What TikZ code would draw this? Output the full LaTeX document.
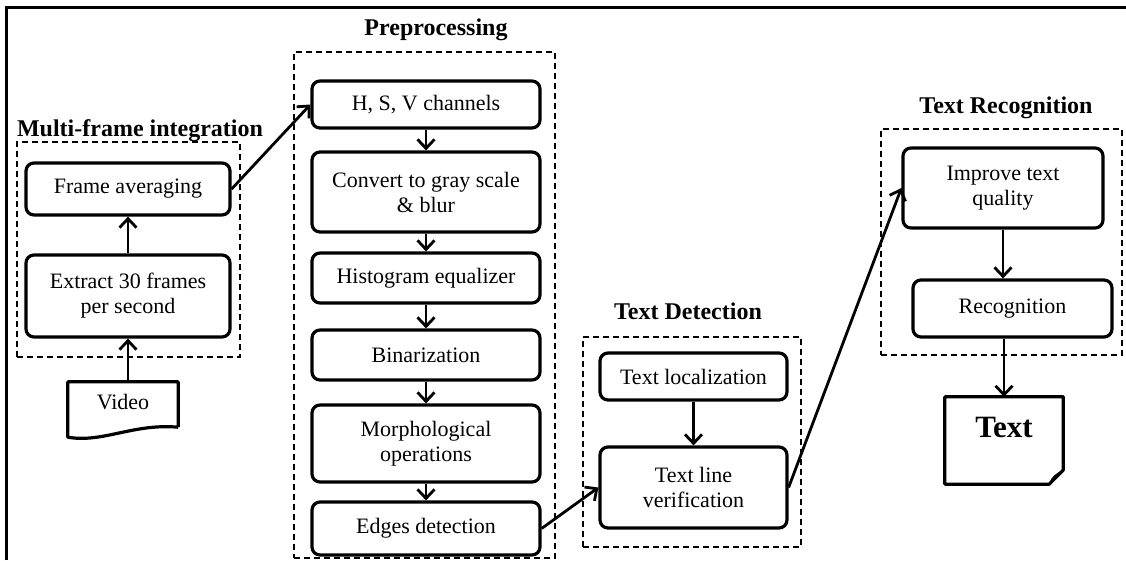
\documentclass[tikz,border=0pt]{standalone}
\usepackage{fontspec}
\setmainfont{Liberation Serif}
\usetikzlibrary{arrows.meta}
\begin{document}
\begin{tikzpicture}[x=1pt,y=-1pt,
  box/.style={draw, line width=3.2pt, rounded corners=8pt, align=center,
              font=\fontsize{22}{25}\selectfont, inner sep=0pt},
  grp/.style={draw, line width=1.6pt, dash pattern=on 6pt off 4pt, inner sep=0pt},
  ttl/.style={font=\fontsize{24}{28}\selectfont\bfseries, anchor=base, inner sep=0pt},
  arr/.style={line width=2.8pt, -{Straight Barb[length=9pt,width=17pt]}},
  shp/.style={line width=3.2pt, line join=round},
]
\useasboundingbox (0,0) rectangle (1126,560);
% outer frame
\draw[line width=3pt] (6,560) -- (6,7) -- (1126,7);

% ---- Multi-frame integration
\node[grp, minimum width=223pt, minimum height=215pt] (g1) at (128.5,249.5) {};
\node[ttl] (t1) at (140,136) {Multi-frame integration};
\node[box, minimum width=204pt, minimum height=52pt] (fa) at (128,189) {Frame averaging};
\node[box, minimum width=204pt, minimum height=82pt] (ex) at (128,296) {Extract 30 frames\\per second};
\node[minimum width=110pt, minimum height=45pt, inner sep=0pt] (video) at (123,404.5) {};
\node[font=\fontsize{22}{25}\selectfont, inner sep=0pt] (videolbl) at (123,402) {Video};
\draw[shp] (video.south east) -- (video.north east) -- (video.north west) -- ([yshift=-10pt]video.south west)
  .. controls ([xshift=35pt,yshift=-16pt]video.south west) and ([xshift=-45pt,yshift=4pt]video.south east) .. (video.south east);
\draw[arr] (video.north -| ex.south) -- (ex.south);
\draw[arr] (ex.north) -- (fa.south);

% ---- Preprocessing
\node[grp, minimum width=261pt, minimum height=506pt] (g2) at (424.5,305) {};
\node[ttl] (t2) at (436,35) {Preprocessing};
\node[box, minimum width=228pt, minimum height=47pt] (hsv) at (426,104.5) {H, S, V channels};
\node[box, minimum width=228pt, minimum height=80pt] (gray) at (426,192) {Convert to gray scale\\\& blur};
\node[box, minimum width=228pt, minimum height=50pt] (hist) at (426,278) {Histogram equalizer};
\node[box, minimum width=228pt, minimum height=50pt] (bin) at (426,355) {Binarization};
\node[box, minimum width=228pt, minimum height=77pt] (morph) at (426,443.5) {Morphological\\operations};
\node[box, minimum width=228pt, minimum height=53pt] (edge) at (426,528.5) {Edges detection};
\draw[arr] (hsv) -- (gray);
\draw[arr] (gray) -- (hist);
\draw[arr] (hist) -- (bin);
\draw[arr] (bin) -- (morph);
\draw[arr] (morph) -- (edge);
\draw[arr] (fa.east) -- (hsv.west);

% ---- Text Detection
\node[grp, minimum width=218pt, minimum height=210pt] (g3) at (692,442) {};
\node[ttl] (t3) at (688,319) {Text Detection};
\node[box, minimum width=187pt, minimum height=47pt] (loc) at (693.5,376.5) {Text localization};
\node[box, minimum width=187pt, minimum height=81pt] (ver) at (693.5,487.5) {Text line\\verification};
\draw[arr] (loc) -- (ver);
\draw[arr] (edge.east) -- (ver.west);

% ---- Text Recognition
\node[grp, minimum width=241pt, minimum height=226pt] (g4) at (1001.5,242) {};
\node[ttl] (t4) at (1006,113) {Text Recognition};
\node[box, minimum width=200pt, minimum height=80pt] (imp) at (1003,188) {Improve text\\quality};
\node[box, minimum width=199pt, minimum height=57pt] (rec) at (1012.5,308.5) {Recognition};
\node[minimum width=118pt, minimum height=87pt, inner sep=0pt] (doc) at (1004,440.5) {};
\node[font=\fontsize{31}{34}\selectfont\bfseries, inner sep=0pt] (doclbl) at (1004,427) {Text};
\draw[shp] ([yshift=14pt]doc.south east) -- (doc.north east) -- (doc.north west) -- (doc.south west)
  -- ([xshift=-14pt]doc.south east) -- cycle;
\draw[line width=1.6pt, fill=black, line join=round] ([xshift=-13pt,yshift=1pt]doc.south east)
  .. controls ([xshift=-11pt,yshift=7pt]doc.south east) and ([xshift=-7pt,yshift=10pt]doc.south east) .. ([xshift=-1pt,yshift=13pt]doc.south east)
  .. controls ([xshift=-6pt,yshift=8pt]doc.south east) and ([xshift=-9pt,yshift=4pt]doc.south east) .. cycle;
\draw[arr] (ver.east) -- (imp.west);
\draw[arr] (imp.south) -- (imp.south |- rec.north);
\draw[arr] (rec.south -| doc.north) -- (doc.north);
\end{tikzpicture}
\end{document}
